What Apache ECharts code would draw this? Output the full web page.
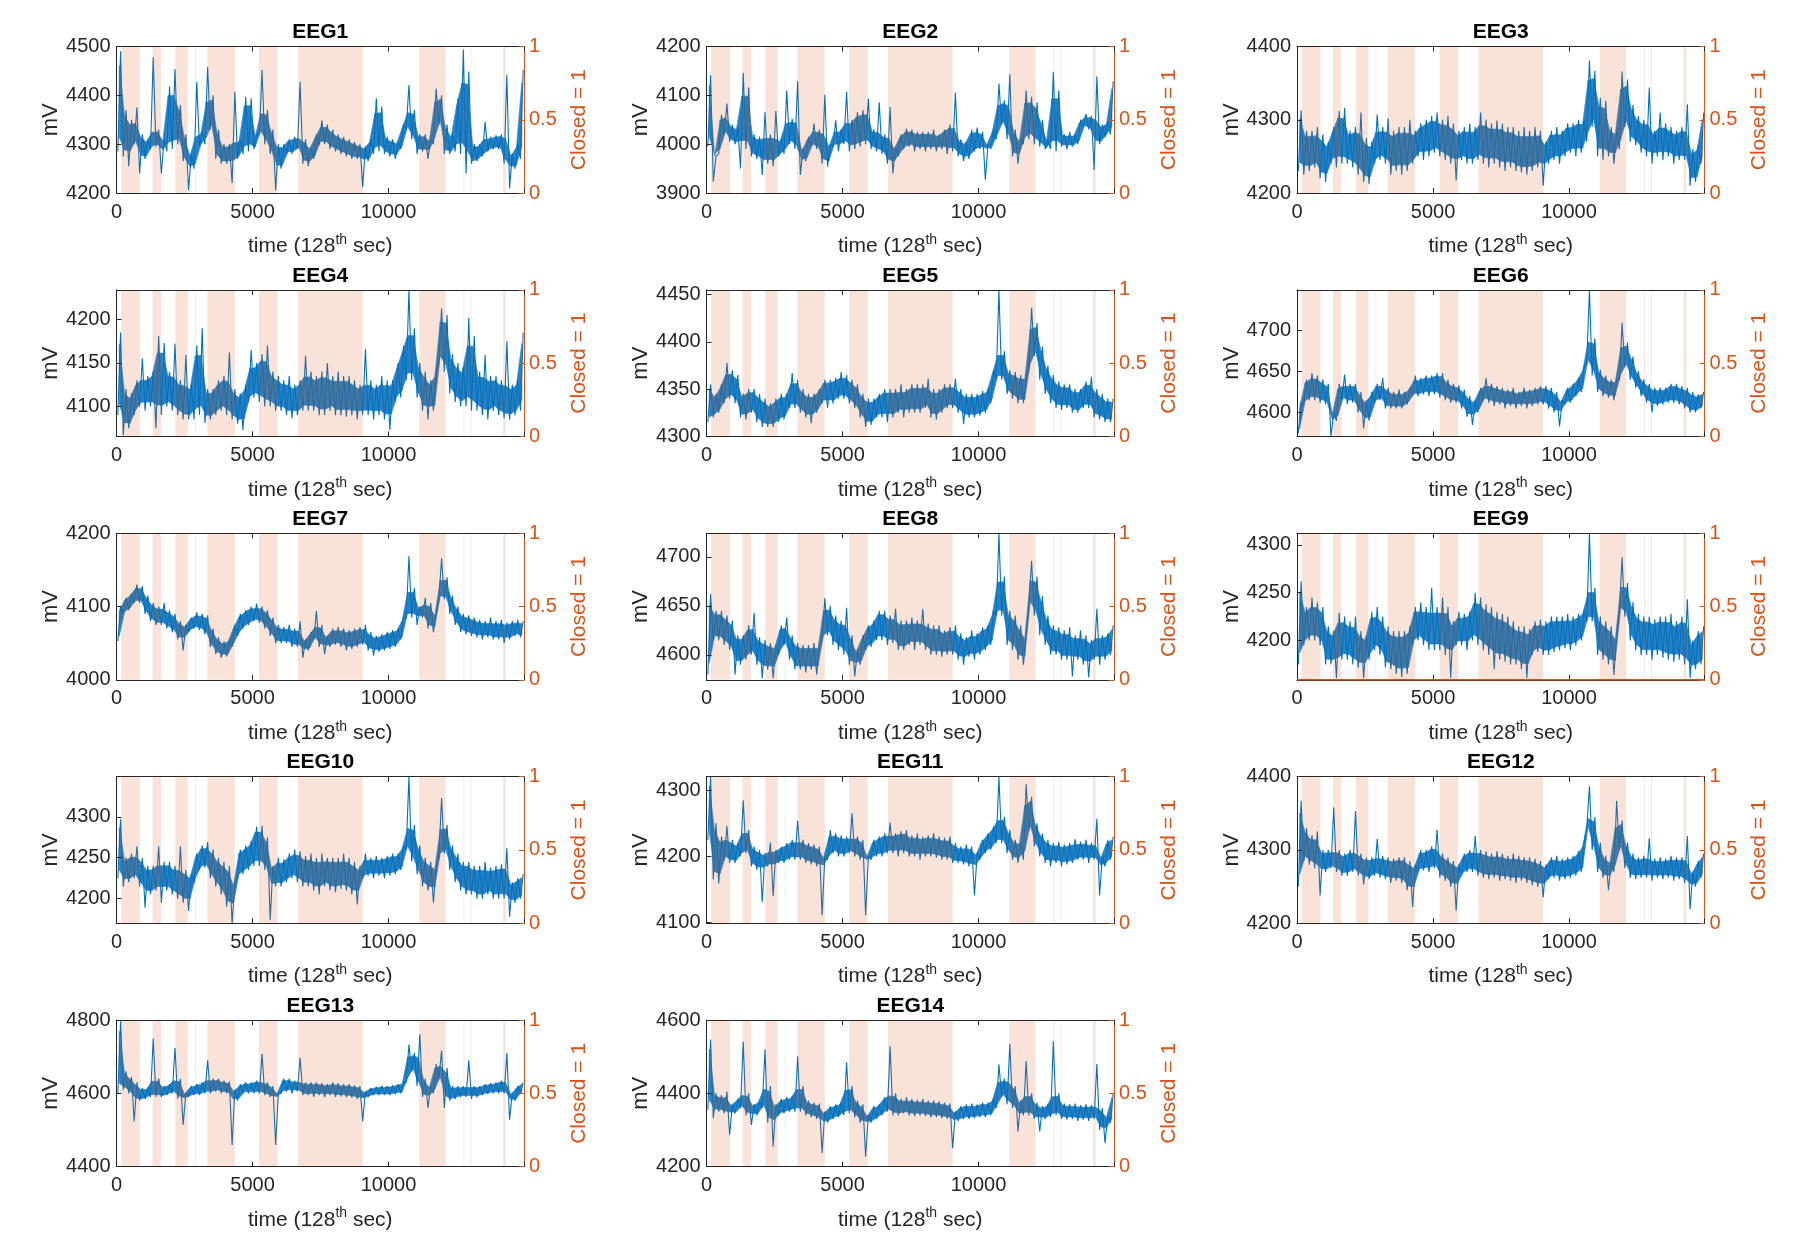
<!DOCTYPE html>
<html><head><meta charset="utf-8">
<script src="https://cdn.jsdelivr.net/npm/echarts@6/dist/echarts.min.js"></script>
<style>html,body{margin:0;padding:0;background:#fff}#c{width:1794px;height:1241px}</style>
</head><body><div id="c"></div>
<script>
// ---------------- DATA ----------------
const TITLES = ['EEG1','EEG2','EEG3','EEG4','EEG5','EEG6','EEG7','EEG8','EEG9','EEG10','EEG11','EEG12','EEG13','EEG14'];
const X_MAX = 14980;
const X_TICKS = [0, 5000, 10000];
const BIN = 200; // each channel array: min,max pairs per 200-sample bin
const EEG1 = [4285,4490,4275,4370,4255,4350,4300,4375,4240,4320,4270,4310,4290,4478,4295,4330,4240,4310,4285,4418,4290,4454,4300,4380,4265,4320,4205,4280,4250,4428,4295,4325,4300,4458,4330,4400,4270,4330,4260,4300,4260,4300,4220,4408,4270,4310,4280,4397,4285,4394,4290,4320,4320,4452,4300,4370,4280,4330,4205,4300,4250,4300,4280,4310,4280,4315,4290,4428,4260,4310,4255,4295,4270,4320,4300,4349,4300,4340,4290,4330,4285,4320,4280,4315,4275,4310,4270,4305,4270,4300,4212,4295,4265,4310,4280,4394,4285,4377,4280,4315,4275,4310,4270,4305,4290,4340,4330,4421,4310,4370,4280,4320,4285,4320,4270,4310,4300,4414,4340,4400,4280,4340,4280,4320,4285,4394,4280,4494,4240,4449,4260,4300,4265,4300,4275,4346,4285,4315,4290,4318,4290,4320,4260,4442,4210,4280,4250,4300,4270,4452];
const EEG2 = [3995,4141,3923,3975,3980,4060,4020,4083,4005,4040,4000,4035,3950,4146,3990,4116,3975,4020,3970,4015,3937,4066,3960,4020,3955,4068,3975,4010,3980,4110,4000,4052,3990,4129,3937,3990,3965,4015,3995,4042,3990,4030,3960,4101,3954,4000,3995,4049,3985,4030,4000,4107,3985,4050,3990,4066,3995,4070,4000,4093,3990,4030,3985,4086,3980,4020,3960,4076,3940,3995,3975,4020,3990,4032,3995,4030,3985,4025,3990,4025,3985,4025,3990,4030,3985,4020,3990,4030,3980,4040,3985,4105,3975,4010,3965,4005,3970,4030,3985,4034,3990,4025,3927,4000,3990,4030,4010,4124,4040,4090,4010,4143,3975,4030,3960,4010,4000,4110,4010,4097,4000,4086,3995,4050,3990,4010,3990,4148,3985,4110,3995,4020,3990,4025,3995,4020,4000,4050,4035,4062,4030,4058,3947,4139,4000,4040,4015,4045,4020,4129];
const EEG3 = [4230,4313,4225,4285,4230,4285,4235,4290,4220,4280,4215,4270,4240,4290,4235,4312,4240,4316,4240,4285,4235,4290,4225,4310,4215,4275,4212,4270,4240,4307,4245,4290,4240,4302,4225,4285,4230,4290,4225,4290,4230,4300,4240,4285,4250,4295,4245,4300,4250,4305,4255,4310,4250,4300,4245,4305,4240,4295,4217,4285,4245,4290,4240,4295,4240,4290,4245,4310,4240,4300,4235,4295,4240,4299,4235,4295,4230,4290,4235,4290,4230,4285,4228,4290,4225,4285,4230,4290,4235,4285,4210,4270,4240,4285,4245,4290,4240,4285,4250,4295,4255,4295,4250,4300,4255,4300,4270,4381,4290,4367,4250,4330,4245,4326,4250,4290,4240,4285,4260,4366,4290,4355,4270,4320,4265,4305,4255,4300,4250,4344,4240,4285,4250,4310,4245,4295,4250,4290,4240,4285,4245,4290,4245,4321,4210,4260,4215,4265,4240,4310];
const EEG4 = [4090,4185,4067,4120,4075,4115,4090,4130,4100,4155,4095,4135,4100,4140,4075,4181,4090,4173,4100,4140,4095,4172,4090,4130,4085,4159,4085,4125,4085,4170,4090,4190,4081,4120,4085,4120,4090,4130,4095,4135,4090,4162,4085,4120,4080,4115,4073,4125,4105,4165,4110,4150,4105,4160,4100,4170,4100,4140,4095,4135,4095,4130,4090,4135,4086,4125,4090,4130,4095,4158,4095,4140,4095,4135,4090,4140,4090,4150,4095,4135,4090,4140,4090,4135,4088,4135,4090,4130,4085,4125,4090,4166,4090,4130,4085,4125,4090,4135,4085,4130,4073,4130,4105,4150,4110,4170,4130,4234,4130,4190,4110,4150,4095,4140,4085,4130,4095,4140,4150,4213,4140,4205,4115,4160,4105,4150,4100,4145,4100,4202,4095,4181,4095,4140,4090,4159,4085,4135,4095,4135,4090,4130,4086,4175,4085,4125,4090,4130,4095,4185];
const EEG5 = [4315,4355,4320,4345,4325,4355,4335,4378,4340,4370,4335,4365,4320,4345,4318,4350,4325,4350,4315,4345,4310,4340,4310,4335,4310,4340,4315,4345,4318,4345,4330,4367,4330,4360,4325,4350,4320,4345,4314,4345,4325,4350,4335,4360,4330,4360,4335,4362,4340,4368,4340,4365,4335,4360,4330,4355,4320,4345,4310,4340,4312,4340,4320,4345,4320,4350,4315,4350,4320,4350,4325,4355,4320,4350,4325,4355,4325,4355,4325,4355,4330,4361,4320,4350,4318,4350,4325,4355,4330,4355,4330,4361,4325,4350,4313,4345,4320,4345,4320,4345,4322,4348,4325,4350,4335,4370,4360,4455,4360,4390,4345,4370,4340,4368,4335,4365,4335,4365,4370,4436,4385,4420,4360,4395,4345,4375,4335,4365,4330,4358,4328,4355,4330,4355,4325,4350,4325,4350,4330,4358,4330,4363,4320,4350,4318,4345,4315,4340,4315,4340];
const EEG6 = [4575,4612,4610,4640,4615,4648,4615,4645,4612,4640,4610,4635,4571,4600,4590,4635,4615,4646,4610,4635,4612,4635,4600,4625,4581,4615,4590,4625,4612,4635,4615,4642,4605,4630,4605,4625,4605,4628,4605,4625,4610,4630,4620,4645,4620,4642,4622,4645,4620,4645,4622,4648,4618,4648,4615,4640,4612,4635,4612,4633,4605,4628,4595,4620,4585,4615,4600,4630,4615,4642,4612,4635,4608,4632,4610,4630,4605,4628,4608,4630,4605,4625,4608,4630,4605,4628,4608,4630,4610,4632,4610,4632,4605,4630,4600,4625,4583,4615,4610,4630,4612,4635,4620,4642,4625,4655,4660,4749,4645,4690,4625,4652,4620,4645,4618,4640,4615,4640,4640,4709,4655,4685,4640,4668,4630,4650,4620,4640,4612,4635,4600,4630,4608,4630,4610,4630,4612,4635,4612,4635,4610,4632,4605,4630,4600,4625,4600,4622,4605,4625];
const EEG7 = [4053,4100,4090,4112,4095,4118,4105,4130,4105,4128,4090,4115,4080,4105,4075,4100,4075,4105,4070,4095,4065,4090,4055,4080,4040,4075,4065,4085,4070,4092,4068,4090,4062,4088,4045,4070,4035,4058,4030,4052,4032,4055,4045,4075,4060,4090,4070,4095,4075,4100,4080,4104,4078,4100,4070,4095,4060,4085,4050,4075,4050,4072,4050,4075,4045,4070,4045,4080,4030,4055,4040,4065,4055,4094,4045,4075,4035,4060,4045,4070,4048,4072,4045,4070,4040,4068,4042,4070,4045,4072,4048,4075,4040,4065,4033,4060,4038,4062,4040,4065,4042,4068,4045,4070,4055,4085,4085,4169,4085,4125,4075,4100,4085,4112,4070,4105,4065,4090,4110,4166,4110,4140,4090,4115,4075,4100,4065,4090,4062,4088,4060,4085,4058,4082,4055,4080,4058,4085,4055,4080,4055,4082,4050,4078,4055,4080,4060,4082,4058,4080];
const EEG8 = [4580,4662,4615,4645,4615,4645,4610,4640,4605,4635,4580,4620,4590,4620,4595,4630,4600,4643,4590,4618,4576,4615,4585,4612,4576,4610,4600,4630,4610,4638,4595,4620,4585,4612,4585,4610,4582,4610,4585,4612,4580,4610,4615,4658,4620,4650,4610,4640,4605,4635,4600,4648,4590,4620,4578,4605,4590,4620,4605,4630,4608,4635,4615,4645,4615,4645,4610,4640,4612,4647,4605,4635,4605,4635,4610,4638,4605,4635,4610,4647,4605,4632,4600,4630,4600,4630,4598,4625,4600,4628,4600,4630,4595,4622,4590,4618,4598,4625,4595,4622,4600,4628,4605,4630,4610,4645,4640,4724,4640,4680,4610,4645,4605,4640,4595,4630,4590,4620,4650,4696,4640,4680,4620,4660,4610,4640,4600,4630,4600,4628,4595,4625,4595,4628,4578,4620,4595,4625,4590,4620,4577,4615,4595,4647,4590,4620,4595,4622,4600,4630];
const EEG9 = [4175,4262,4195,4235,4200,4245,4200,4240,4195,4235,4175,4215,4175,4210,4161,4229,4180,4225,4180,4220,4175,4225,4172,4210,4161,4205,4180,4230,4190,4235,4185,4225,4172,4215,4170,4210,4165,4210,4162,4210,4165,4215,4195,4235,4200,4240,4195,4235,4190,4255,4190,4235,4190,4245,4185,4235,4161,4220,4195,4230,4195,4228,4190,4230,4200,4250,4195,4245,4190,4238,4185,4235,4170,4230,4180,4228,4178,4225,4175,4220,4175,4215,4170,4215,4161,4212,4185,4220,4188,4222,4185,4220,4185,4225,4188,4225,4190,4225,4192,4228,4190,4225,4195,4228,4200,4232,4220,4312,4220,4255,4185,4225,4180,4220,4175,4215,4164,4205,4230,4287,4225,4260,4200,4240,4190,4228,4185,4225,4185,4225,4180,4222,4185,4225,4182,4225,4180,4228,4178,4220,4180,4225,4175,4243,4161,4200,4170,4210,4175,4215];
const EEG10 = [4225,4297,4215,4250,4220,4255,4225,4264,4215,4250,4189,4240,4205,4240,4210,4264,4195,4245,4210,4245,4205,4240,4200,4264,4195,4235,4185,4230,4220,4255,4235,4265,4238,4269,4225,4260,4215,4250,4205,4245,4190,4240,4170,4220,4225,4260,4230,4265,4235,4270,4240,4288,4240,4289,4235,4275,4174,4240,4215,4250,4215,4248,4220,4255,4225,4260,4220,4258,4215,4252,4215,4255,4210,4250,4205,4255,4215,4250,4210,4250,4208,4250,4212,4255,4210,4250,4205,4245,4193,4240,4225,4255,4228,4250,4225,4252,4228,4250,4225,4252,4228,4255,4230,4255,4235,4265,4260,4349,4245,4290,4230,4265,4215,4250,4210,4245,4195,4240,4250,4323,4255,4290,4235,4265,4220,4255,4210,4245,4205,4245,4205,4240,4200,4240,4200,4245,4205,4238,4200,4240,4200,4242,4200,4262,4178,4220,4195,4225,4200,4230];
const EEG11 = [4225,4320,4165,4250,4159,4230,4195,4246,4190,4225,4190,4220,4200,4285,4205,4240,4185,4215,4180,4210,4131,4205,4185,4221,4140,4210,4190,4215,4190,4220,4195,4225,4195,4254,4195,4225,4190,4220,4188,4218,4185,4215,4111,4200,4195,4240,4205,4235,4200,4232,4200,4230,4205,4265,4200,4230,4195,4225,4111,4200,4195,4225,4200,4230,4200,4235,4205,4251,4205,4235,4200,4238,4205,4240,4200,4232,4200,4235,4195,4230,4200,4232,4200,4235,4198,4230,4195,4228,4195,4230,4190,4220,4190,4215,4188,4218,4185,4215,4141,4205,4195,4225,4205,4235,4210,4245,4220,4320,4220,4260,4205,4240,4195,4225,4190,4222,4195,4309,4240,4290,4215,4250,4200,4235,4190,4225,4185,4220,4190,4222,4185,4218,4188,4220,4190,4226,4195,4222,4195,4225,4190,4220,4195,4257,4141,4200,4185,4225,4195,4230];
const EEG12 = [4250,4367,4285,4330,4280,4320,4275,4325,4238,4300,4270,4300,4275,4358,4270,4300,4265,4295,4265,4300,4270,4353,4265,4295,4253,4290,4260,4290,4265,4315,4262,4292,4260,4290,4255,4288,4258,4290,4255,4290,4245,4285,4222,4280,4270,4300,4272,4300,4270,4305,4275,4328,4262,4295,4258,4290,4250,4285,4217,4280,4265,4295,4270,4300,4270,4319,4265,4300,4262,4298,4260,4295,4262,4298,4258,4295,4260,4292,4258,4295,4255,4292,4258,4290,4255,4290,4252,4288,4250,4285,4235,4280,4260,4290,4262,4292,4258,4288,4260,4290,4262,4292,4265,4298,4270,4310,4330,4387,4300,4345,4270,4310,4262,4292,4245,4285,4270,4367,4300,4340,4275,4310,4262,4295,4260,4290,4262,4292,4262,4316,4258,4288,4262,4290,4260,4288,4262,4292,4258,4290,4260,4290,4255,4319,4219,4270,4250,4285,4262,4295];
const EEG13 = [4600,4797,4610,4660,4600,4645,4523,4630,4580,4615,4585,4615,4590,4750,4590,4640,4590,4620,4595,4625,4600,4724,4585,4640,4514,4600,4590,4620,4595,4625,4595,4630,4600,4690,4600,4640,4605,4640,4600,4635,4600,4632,4459,4610,4580,4625,4600,4630,4600,4630,4600,4635,4600,4708,4595,4630,4590,4620,4459,4600,4600,4640,4605,4640,4600,4635,4605,4697,4595,4630,4595,4630,4590,4630,4595,4628,4590,4625,4595,4630,4590,4628,4592,4625,4590,4625,4588,4622,4585,4620,4523,4605,4590,4615,4595,4618,4595,4620,4595,4620,4595,4622,4598,4625,4600,4630,4630,4733,4660,4710,4620,4761,4590,4640,4560,4620,4600,4680,4640,4717,4560,4670,4580,4620,4585,4620,4590,4620,4590,4690,4585,4620,4590,4620,4595,4625,4598,4628,4600,4630,4600,4635,4600,4710,4528,4600,4580,4620,4600,4630];
const EEG14 = [4355,4547,4332,4400,4350,4395,4345,4405,4287,4370,4345,4385,4360,4541,4340,4400,4314,4370,4340,4380,4360,4520,4320,4420,4255,4370,4340,4385,4345,4390,4350,4392,4350,4501,4350,4420,4340,4380,4335,4375,4330,4372,4237,4350,4320,4365,4330,4370,4335,4375,4340,4485,4345,4420,4335,4380,4320,4370,4227,4340,4320,4365,4330,4370,4340,4390,4350,4529,4340,4400,4340,4385,4345,4390,4340,4385,4338,4382,4340,4385,4338,4380,4335,4380,4335,4378,4332,4375,4330,4372,4250,4350,4325,4365,4330,4370,4330,4372,4332,4370,4335,4375,4335,4375,4340,4385,4360,4479,4390,4440,4370,4535,4360,4420,4296,4380,4340,4488,4340,4400,4330,4375,4296,4365,4330,4370,4335,4542,4340,4400,4330,4372,4328,4370,4330,4372,4325,4368,4328,4370,4325,4368,4330,4480,4300,4360,4264,4340,4320,4400];
const CHANNELS = [EEG1,EEG2,EEG3,EEG4,EEG5,EEG6,EEG7,EEG8,EEG9,EEG10,EEG11,EEG12,EEG13,EEG14];
// left-axis limits and tick steps
const Y_MIN  = [4200,3900,4200,4065.5,4300,4571,4000,4574.5,4159,4170,4099,4200,4400,4200];
const Y_MAX  = [4500,4200,4400,4234,4455,4749,4200,4724,4312,4349,4320.5,4400,4800,4600];
const Y_STEP = [100,100,100,50,50,50,100,50,50,50,100,100,200,200];
const R_TICKS = [0, 0.5, 1];
// eye-closed intervals (sample index)
const CLOSED = [[170,862],[1325,1630],[2162,2618],[2885,2910],[3340,4348],[5242,5925],[6674,9050],[11128,12100],[12755,12785],[13015,13045],[14215,14305]];

// ---------------- LAYOUT / STYLE ----------------
const COL_LEFT = [116.5, 706.5, 1297];
const ROW_TOP0 = 46.5, ROW_STEP = 243.4;
const W = 407.5, H = 146.5;
const FONT = '"Liberation Sans", Arial, Helvetica, sans-serif';
const DARK = '#262626', ORANGE = '#D95319', BLUE = '#0072BD', BAND = '#2a80c2';

const option = {animation:false, backgroundColor:'#ffffff', title:[], grid:[], xAxis:[], yAxis:[], series:[]};
const isMult = (v, s) => Math.abs(v/s - Math.round(v/s)) < 1e-6;

CHANNELS.forEach((vals, i) => {
  const r = Math.floor(i/3), c = i % 3;
  const left = COL_LEFT[c], top = ROW_TOP0 + r*ROW_STEP;
  option.grid.push({left:left, top:top, width:W, height:H, containLabel:false, outerBoundsMode:'none'});
  option.title.push({text:TITLES[i], left:left + W/2, top:top - 24.5, textAlign:'center', padding:0,
    textStyle:{fontFamily:FONT, fontSize:21, fontWeight:'bold', color:'#000'}});
  const xb = option.xAxis.length;
  option.xAxis.push({type:'value', gridIndex:i, position:'bottom', min:0, max:X_MAX, interval:5000, z:20,
    axisLine:{onZero:false, lineStyle:{color:DARK, width:1}},
    axisTick:{inside:true, length:5, lineStyle:{color:DARK}},
    axisLabel:{margin:9, fontSize:20, color:DARK, fontFamily:FONT, formatter:v => X_TICKS.includes(v) ? String(v) : ''},
    splitLine:{show:false},
    name:'{n|time (128}{s|th}{n| sec)}', nameLocation:'middle', nameGap:40,
    nameTextStyle:{fontFamily:FONT, color:DARK, fontSize:21, rich:{
      n:{fontFamily:FONT, color:DARK, fontSize:21, lineHeight:24, verticalAlign:'bottom'},
      s:{fontFamily:FONT, color:DARK, fontSize:14, lineHeight:24, verticalAlign:'top'}}}
  });
  option.xAxis.push({type:'value', gridIndex:i, position:'top', min:0, max:X_MAX, interval:5000, z:20,
    axisLine:{onZero:false, lineStyle:{color:DARK, width:1}},
    axisTick:{inside:true, length:5, lineStyle:{color:DARK}},
    axisLabel:{show:false}, splitLine:{show:false}});
  const yl = option.yAxis.length;
  const step = Y_STEP[i];
  option.yAxis.push({type:'value', gridIndex:i, position:'left', min:Y_MIN[i], max:Y_MAX[i], minInterval:step, maxInterval:step, z:20,
    axisLine:{show:true, onZero:false, lineStyle:{color:DARK, width:1}},
    axisTick:{show:true, inside:true, length:5, lineStyle:{color:DARK}},
    axisLabel:{margin:6, fontSize:20, color:DARK, fontFamily:FONT, formatter:v => isMult(v, step) ? String(Math.round(v)) : ''},
    splitLine:{show:false},
    name:'mV', nameLocation:'middle', nameRotate:90, nameGap:50,
    nameTextStyle:{fontFamily:FONT, color:DARK, fontSize:22}});
  option.yAxis.push({type:'value', gridIndex:i, position:'right', min:0, max:1, interval:0.5, z:20,
    axisLine:{show:true, onZero:false, lineStyle:{color:ORANGE, width:1}},
    axisTick:{show:true, inside:true, length:5, lineStyle:{color:ORANGE}},
    axisLabel:{margin:5, fontSize:20, color:ORANGE, fontFamily:FONT, formatter:v => R_TICKS.includes(v) ? String(v) : ''},
    splitLine:{show:false},
    name:'Closed = 1', nameLocation:'middle', nameRotate:90, nameGap:44.5,
    nameTextStyle:{fontFamily:FONT, color:ORANGE, fontSize:21}});

  // signal trace: alternating bin min / max
  const n = vals.length/2;
  const lo = [], hi = [];
  for (let k = 0; k < n; k++) { lo.push(vals[2*k]); hi.push(vals[2*k+1]); }
  const pts = [];
  for (let k = 0; k < n; k++) {
    pts.push([k*BIN + BIN/4, lo[k]]);
    pts.push([k*BIN + 3*BIN/4, hi[k]]);
  }
  // dense-noise core band: envelope with isolated one-bin spikes removed, trimmed slightly
  const upS = hi.map((v, k) => Math.min(v, Math.max(hi[Math.max(k-1,0)], hi[Math.min(k+1,n-1)])));
  const dnS = lo.map((v, k) => Math.max(v, Math.min(lo[Math.max(k-1,0)], lo[Math.min(k+1,n-1)])));
  const bandItems = [];
  for (let k = 0; k < n - 1; k++) {
    const t0 = 0.14*(upS[k]-dnS[k]), t1 = 0.14*(upS[k+1]-dnS[k+1]);
    bandItems.push([k*BIN + BIN/2, dnS[k]+t0, upS[k]-t0, (k+1)*BIN + BIN/2, dnS[k+1]+t1, upS[k+1]-t1]);
  }
  option.series.push({type:'custom', coordinateSystem:'cartesian2d', xAxisIndex:xb, yAxisIndex:yl, silent:true, z:1,
    data:bandItems, encode:{x:[0,3], y:[1,2,4,5]}, clip:true,
    renderItem:(params, api) => {
      const a = api.coord([api.value(0), api.value(1)]), b = api.coord([api.value(0), api.value(2)]);
      const c2 = api.coord([api.value(3), api.value(5)]), d = api.coord([api.value(3), api.value(4)]);
      return {type:'polygon', shape:{points:[a, b, c2, d]}, style:{fill:BAND, stroke:BAND, lineWidth:0.6}};
    }});
  option.series.push({type:'line', xAxisIndex:xb, yAxisIndex:yl, data:pts, showSymbol:false, symbol:'none',
    sampling:null, z:2, silent:true, lineStyle:{color:BLUE, width:1.1}, itemStyle:{color:BLUE}});
  option.series.push({type:'line', xAxisIndex:xb, yAxisIndex:yl+1, data:[[0,0]], symbol:'none', silent:true, z:3,
    lineStyle:{opacity:0},
    markArea:{silent:true, z:10, itemStyle:{color:'rgba(217,83,25,0.17)'},
      data:CLOSED.map(([a,b]) => [{xAxis:a}, {xAxis:b}])}});
  if (i === 8) {
    option.series.push({type:'line', xAxisIndex:xb, yAxisIndex:yl+1, data:[[0,0],[X_MAX,0]], symbol:'none', silent:true, z:30,
      clip:false, lineStyle:{color:ORANGE, width:1.5}});
  }
});

const chart = echarts.init(document.getElementById('c'), null, {renderer:'canvas', width:1794, height:1241});
chart.setOption(option);
</script>
</body></html>
